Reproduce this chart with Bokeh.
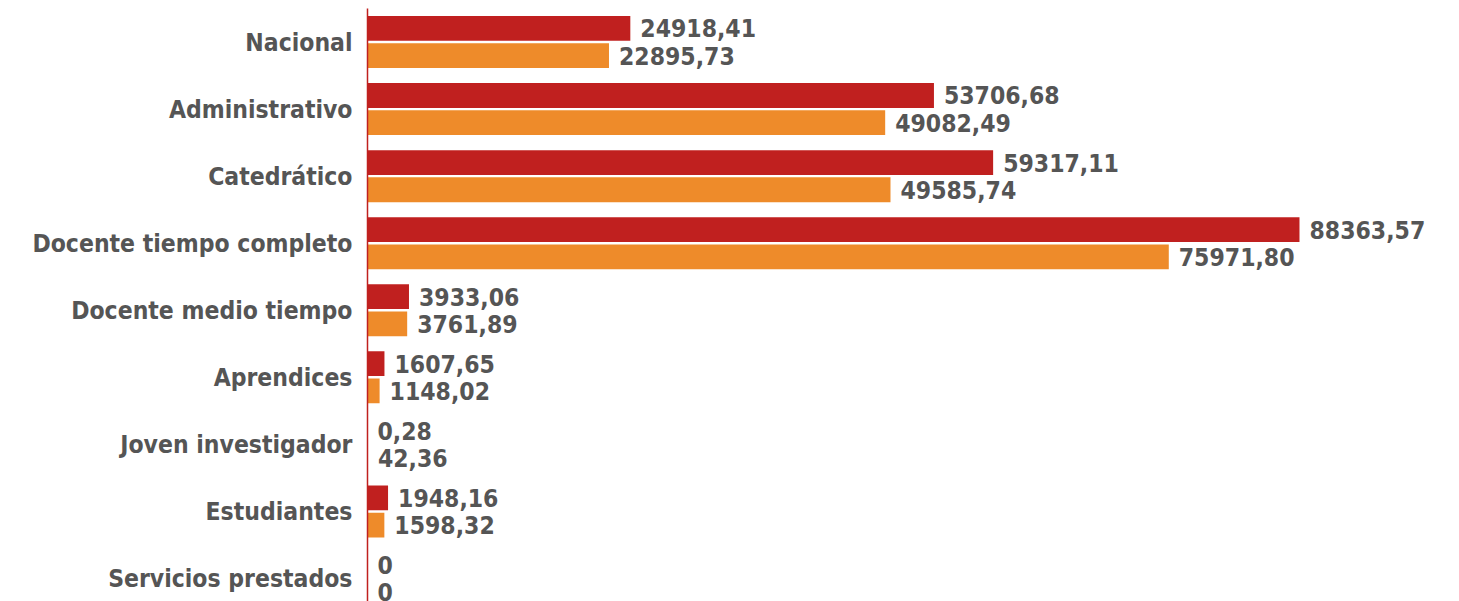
from bokeh.plotting import figure
from bokeh.models import Range1d, FixedTicker, ColumnDataSource, LabelSet
from bokeh.core.properties import value
from bokeh.transform import dodge
from bokeh.embed import file_html
from bokeh.resources import INLINE

categories = [
    "Nacional",
    "Administrativo",
    "Catedrático",
    "Docente tiempo completo",
    "Docente medio tiempo",
    "Aprendices",
    "Joven investigador",
    "Estudiantes",
    "Servicios prestados",
]
serie_a = [24918.41, 53706.68, 59317.11, 88363.57, 3933.06, 1607.65, 0.28, 1948.16, 0]
serie_b = [22895.73, 49082.49, 49585.74, 75971.80, 3761.89, 1148.02, 42.36, 1598.32, 0]

RED = "#C0201F"
ORANGE = "#EE8B2A"
TEXT = "#555555"
FONT = "DejaVu Sans Condensed"
SIZE = "24.5px"


def fmt(v):
    if v == 0:
        return "0"
    return f"{v:.2f}".replace(".", ",")


pos = list(range(len(categories)))
src = ColumnDataSource(dict(
    y=pos,
    a=serie_a,
    b=serie_b,
    la=[fmt(v) for v in serie_a],
    lb=[fmt(v) for v in serie_b],
))

p = figure(
    width=1459, height=601,
    x_range=Range1d(0, 103535),
    y_range=Range1d(8.343, -0.5),
    output_backend="svg", toolbar_location=None,
    min_border_left=367, min_border_right=0,
    min_border_top=8, min_border_bottom=0,
)
p.outline_line_color = None
p.background_fill_color = "white"
p.border_fill_color = "white"
p.grid.visible = False
p.xaxis.visible = False

p.hbar(y=dodge("y", -0.203, range=p.y_range), right="a", height=0.37,
       left=0, source=src, color=RED, line_color=None)
p.hbar(y=dodge("y", 0.203, range=p.y_range), right="b", height=0.37,
       left=0, source=src, color=ORANGE, line_color=None)

for col, lab, off in (("a", "la", -0.203), ("b", "lb", 0.203)):
    p.add_layout(LabelSet(
        x=col, y=dodge("y", off, range=p.y_range), text=lab, source=src,
        x_offset=10, text_baseline="middle", text_align="left",
        text_font=value(FONT), text_font_style="bold", text_font_size=SIZE,
        text_color=TEXT,
    ))

yax = p.yaxis[0]
yax.ticker = FixedTicker(ticks=pos)
yax.major_label_overrides = {i: c for i, c in enumerate(categories)}
yax.axis_line_color = RED
yax.axis_line_width = 1.5
yax.major_tick_line_color = None
yax.minor_tick_line_color = None
yax.major_tick_out = 0
yax.major_tick_in = 0
yax.major_label_standoff = 15
yax.major_label_text_font = FONT
yax.major_label_text_font_style = "bold"
yax.major_label_text_font_size = SIZE
yax.major_label_text_color = TEXT

open("out.html", "w").write(file_html(p, INLINE))
